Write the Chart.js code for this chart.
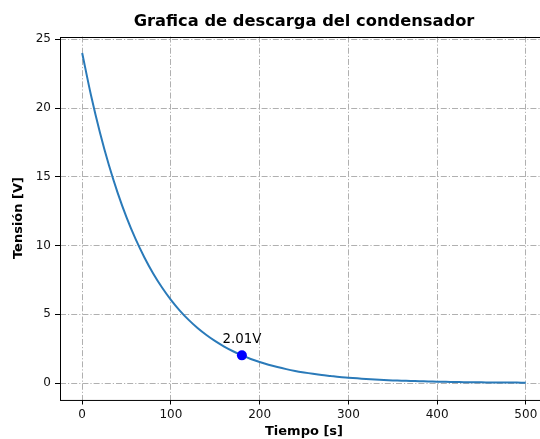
<!DOCTYPE html>
<html>
<head>
<meta charset="utf-8">
<script src="https://cdn.jsdelivr.net/npm/chart.js@4.4.0/dist/chart.umd.min.js"></script>
<style>
  html, body { margin: 0; padding: 0; background: #fff; overflow: hidden; }
  #wrap { width: 540px; height: 439px; overflow: hidden; }
</style>
</head>
<body>
<div id="wrap"><canvas id="myChart" width="560" height="439"></canvas></div>
<script>
// tiempo [s] y tension [V]
var tiempo = [0,10,20,30,40,50,60,70,80,90,100,110,120,130,140,150,160,170,180,190,200,
  210,220,230,240,250,260,270,280,290,300,310,320,330,340,350,360,370,380,390,400,
  410,420,430,440,450,460,470,480,490,500];
var tension = [24.0,20.91,18.22,15.87,13.83,12.05,10.5,9.15,7.97,6.95,6.05,5.27,4.59,4.0,3.49,3.04,2.65,2.31,2.01,1.75,1.53,
  1.33,1.16,1.01,0.88,0.77,0.67,0.58,0.51,0.44,0.39,0.34,0.29,0.25,0.22,0.19,0.17,0.15,0.13,0.11,0.1,
  0.09,0.07,0.06,0.06,0.05,0.04,0.04,0.03,0.03,0.02];
var puntoT = [180];
var puntoV = [2.01];
var xTicks = [0,100,200,300,400,500];
var yTicks = [0,5,10,15,20,25];

var gridCol = '#b0b0b0';
var dashdot = [6, 2, 1.2, 2];

// marco de los ejes, titulo centrado en los ejes y etiqueta del punto
const extras = {
  id: 'extras',
  afterLayout(chart) {
    var tb = chart.titleBlock;
    if (tb) {
      tb.left = chart.chartArea.left;
      tb.right = chart.chartArea.right;
      tb.width = tb.right - tb.left;
    }
  },
  afterDraw(chart) {
    var ctx = chart.ctx, a = chart.chartArea;
    ctx.save();
    ctx.strokeStyle = '#000';
    ctx.lineWidth = 1;
    ctx.strokeRect(Math.round(a.left) + 0.5, Math.round(a.top) + 0.5, a.right - a.left, a.bottom - a.top);
    var xs = chart.scales.x, ys = chart.scales.y;
    ctx.fillStyle = '#000';
    ctx.font = '13.4px "DejaVu Sans"';
    ctx.textAlign = 'center';
    ctx.textBaseline = 'alphabetic';
    for (var i = 0; i < puntoT.length; i++) {
      ctx.fillText(puntoV[i].toFixed(2) + 'V', xs.getPixelForValue(puntoT[i]), ys.getPixelForValue(puntoV[i]) - 12);
    }
    ctx.restore();
  }
};

const data = {
  datasets: [{
    data: tiempo.map((t, i) => ({x: t, y: tension[i]})),
    showLine: true,
    borderColor: '#2a7ab9',
    borderWidth: 2,
    pointRadius: 0,
    tension: 0.3,
    fill: false,
    order: 2
  }, {
    data: puntoT.map((t, i) => ({x: t, y: puntoV[i]})),
    showLine: false,
    pointRadius: 5,
    backgroundColor: '#0000ff',
    borderColor: '#0000ff',
    borderWidth: 0,
    order: 1
  }]
};

const config = {
  type: 'scatter',
  data,
  options: {
    responsive: false,
    animation: false,
    layout: { padding: { left: 0, right: 12, top: 0, bottom: 0 } },
    plugins: {
      legend: { display: false },
      tooltip: { enabled: false },
      title: {
        display: true,
        text: 'Grafica de descarga del condensador',
        color: '#000',
        font: { family: '"DejaVu Sans"', size: 16.3, weight: 'bold' },
        padding: { top: 12, bottom: 5 }
      }
    },
    scales: {
      x: {
        type: 'linear',
        min: -25, max: 525,
        afterBuildTicks: s => { s.ticks = xTicks.map(v => ({value: v})); },
        afterFit: s => { s.height = 39.5; },
        ticks: { color: '#111', font: { family: '"DejaVu Sans"', size: 12 }, padding: 3, maxRotation: 0 },
        grid: { color: gridCol, lineWidth: 1, tickLength: 5, tickColor: '#000', tickBorderDash: [], tickWidth: 1 },
        border: { display: false, dash: dashdot },
        title: { display: true, text: 'Tiempo [s]', color: '#000', font: { family: '"DejaVu Sans"', size: 13, weight: 'bold' }, padding: { top: 0, bottom: 0 } }
      },
      y: {
        type: 'linear',
        min: -1.2, max: 25.2,
        afterBuildTicks: s => { s.ticks = yTicks.map(v => ({value: v})); },
        afterFit: s => { s.width = 60; },
        ticks: { color: '#111', font: { family: '"DejaVu Sans"', size: 12 }, padding: 4 },
        grid: { color: gridCol, lineWidth: 1, tickLength: 5, tickColor: '#000', tickBorderDash: [], tickWidth: 1 },
        border: { display: false, dash: dashdot },
        title: { display: true, text: 'Tensión [V]', color: '#000', font: { family: '"DejaVu Sans"', size: 13, weight: 'bold' }, padding: { top: 11, bottom: 0 } }
      }
    }
  },
  plugins: [extras]
};

const myChart = new Chart(document.getElementById('myChart').getContext('2d'), config);
</script>
</body>
</html>
